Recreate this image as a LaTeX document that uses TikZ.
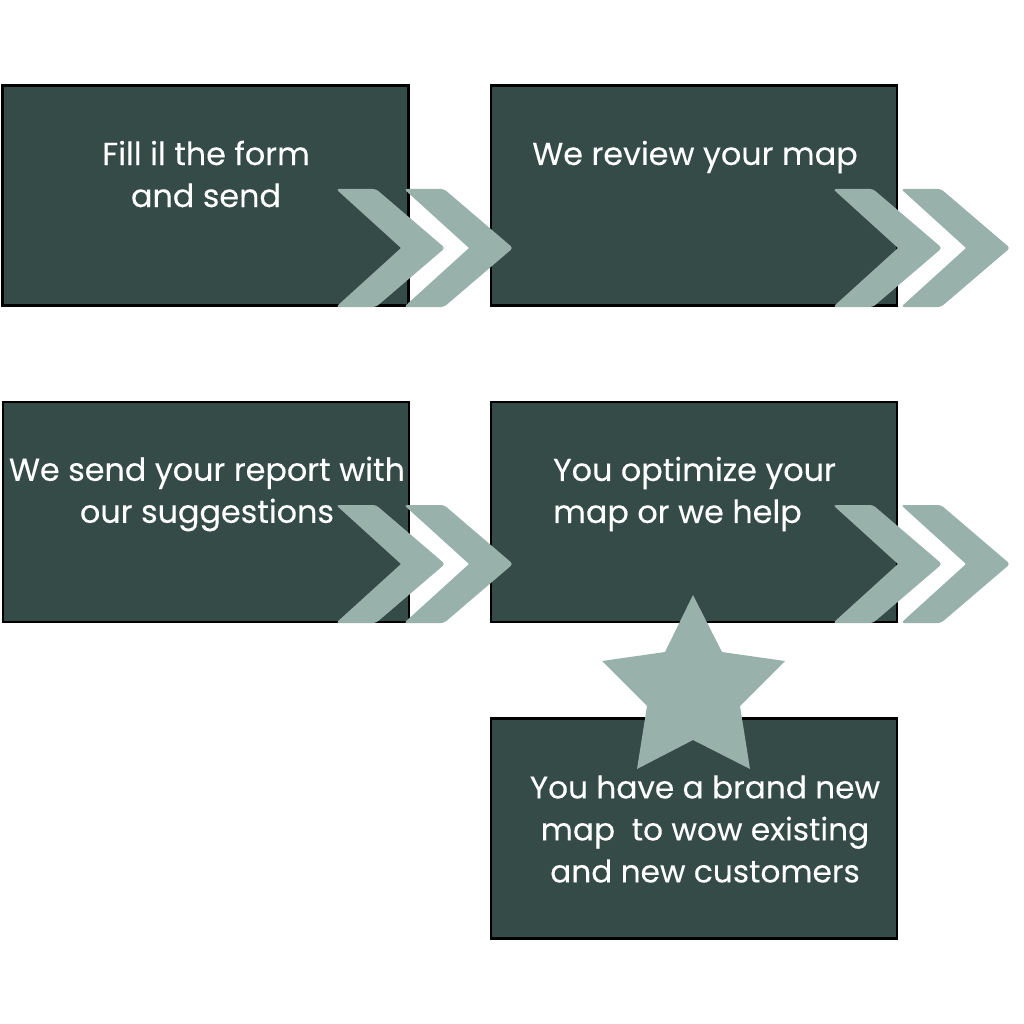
\documentclass[tikz,border=0pt]{standalone}
\usepackage{fontspec}
\setmainfont{Poppins}[FakeBold=0.2]
\definecolor{boxgreen}{HTML}{344B48}
\definecolor{chevgreen}{HTML}{98B2AB}
\tikzset{
	stepbox/.style={rectangle, draw=black, line width=2.5pt, fill=boxgreen, minimum width=406pt, minimum height=220pt, inner sep=0pt},
	steptext/.style={text=white, font=\fontsize{31.8}{42}\selectfont, inner sep=0pt},
	chevrons/.pic={
		\fill[chevgreen, rounded corners=3pt] (-2,0) -- (38,0) -- (107,59) -- (38,118) -- (-2,118) [sharp corners] -- (63,59) [rounded corners=3pt] -- cycle;
		\fill[chevgreen, rounded corners=3pt] (66,0) -- (106,0) -- (175,59) -- (106,118) -- (66,118) [sharp corners] -- (131,59) [rounded corners=3pt] -- cycle;
	}
}
\begin{document}
\begin{tikzpicture}[x=1pt, y=-1pt]
	\useasboundingbox (0,0) rectangle (1024,1024);

	\node (box1)[stepbox] at (205.5, 195.5) {};
	\node (box2)[stepbox] at (694, 195.5) {};
	\node (box3)[stepbox] at (206, 512) {};
	\node (box4)[stepbox] at (694, 512) {};
	\node (box5)[stepbox] at (694, 828.5) {};

	\node (text1)[steptext, align=center] at (206, 174) {Fill il the form\\and send};
	\node (text2)[steptext, align=center] at (695, 157) {We review your map};
	\node (text3)[steptext, align=center] at (207, 494) {We send your report with\\our suggestions};
	\node (text4)[steptext, align=left] at (694.5, 494) {You optimize your\\map or we help};
	\node (text5)[steptext, align=center, font=\fontsize{31.2}{42}\selectfont] at (705, 829) {You have a brand new\\map\ \ to wow existing\\and new customers};

	\pic at (338, 189) {chevrons};
	\pic at (835, 189) {chevrons};
	\pic at (338, 505) {chevrons};
	\pic at (835, 505) {chevrons};

	\fill[chevgreen] (693,595) -- (722,652) -- (785,661) -- (740,706) -- (750,769) -- (693,740) -- (637,769) -- (647,706) -- (602,661) -- (665,652) -- cycle;
\end{tikzpicture}
\end{document}
